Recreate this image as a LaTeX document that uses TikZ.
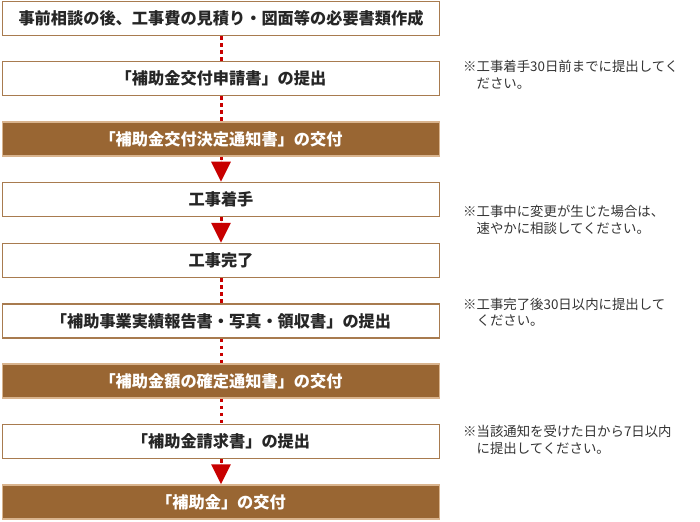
\documentclass[tikz,border=0pt]{standalone}
\usepackage{fontspec}
\newfontfamily\jp{Noto Sans CJK JP}
\usetikzlibrary{arrows.meta}
\usetikzlibrary{positioning}
\definecolor{boxbrown}{HTML}{996633}
\definecolor{boxedge}{HTML}{A87B4F}
\definecolor{rimtan}{HTML}{D9B48E}
\definecolor{linkred}{HTML}{C80000}
\definecolor{notegray}{HTML}{333333}
\tikzset{whitebox/.style = {draw=boxedge, line width=1.5pt, fill=white,
                            minimum width=437pt, minimum height=34pt, inner sep=0,
                            text=black!85, font=\jp\bfseries\fontsize{16.2}{18}\selectfont}}
\tikzset{brownbox/.style = {whitebox, draw=rimtan, fill=boxbrown, text=white}}
\tikzset{dotlink/.style = {draw=linkred, line width=3pt, dash pattern=on 3.5pt off 3.5pt}}
\tikzset{arrowlink/.style = {dotlink, -{Triangle[width=19pt, length=20pt]}, fill=linkred}}
\tikzset{note/.style = {anchor=north west, inner sep=0, align=left, text=notegray,
                        font=\jp\fontsize{13.4}{16.5}\selectfont}}

\begin{document}
\begin{tikzpicture}[x=1pt, y=-1pt]
      \useasboundingbox (0, 0) rectangle (700, 521);

      \node [whitebox] (prep)    at (221, 18.5)  {事前相談の後、工事費の見積り・図面等の必要書類作成};
      \node [whitebox] (apply)   at (221, 78.5)  {「補助金交付申請書」の提出};
      \node [brownbox] (grant)   at (221, 139)   {「補助金交付決定通知書」の交付};
      \node [whitebox] (start)   at (221, 199.5) {工事着手};
      \node [whitebox] (finish)  at (221, 260.5) {工事完了};
      \node [whitebox] (report)  at (221, 321)   {「補助事業実績報告書・写真・領収書」の提出};
      \node [brownbox] (fix)     at (221, 381)   {「補助金額の確定通知書」の交付};
      \node [whitebox] (claim)   at (221, 441.5) {「補助金請求書」の提出};
      \node [brownbox] (pay)     at (221, 502)   {「補助金」の交付};

      \draw [dotlink] (prep) -- (apply);
      \draw [dotlink] (apply) -- (grant);
      \draw [arrowlink] (grant) -- (start);
      \draw [arrowlink] (start) -- (finish);
      \draw [dotlink] (finish) -- (report);
      \draw [dotlink] (report) -- (fix);
      \draw [dotlink] (fix) -- (claim);
      \draw [arrowlink] (claim) -- (pay);

      \node [note] (note1) at (463, 60)  {※工事着手30日前までに提出してく\\\hspace*{1em}ださい。};
      \node [note] (note2) at (463, 205) {※工事中に変更が生じた場合は、\\\hspace*{1em}速やかに相談してください。};
      \node [note] (note3) at (463, 298) {※工事完了後30日以内に提出して\\\hspace*{1em}ください。};
      \node [note] (note4) at (463, 425) {※当該通知を受けた日から7日以内\\\hspace*{1em}に提出してください。};

    \end{tikzpicture}
\end{document}
